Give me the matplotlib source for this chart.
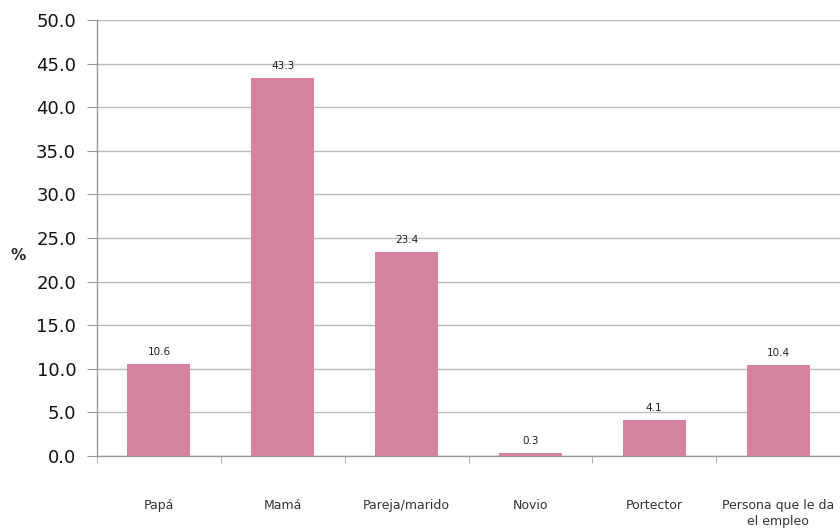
import matplotlib
matplotlib.use("Agg")
import matplotlib.pyplot as plt
import numpy as np

categories = ["Papá", "Mamá", "Pareja/marido", "Novio", "Portector", "Persona que le da\nel empleo"]
values = [10.6, 43.3, 23.4, 0.3, 4.1, 10.4]
yticks = [0, 5, 10, 15, 20, 25, 30, 35, 40, 45, 50]

fig = plt.figure(figsize=(8.4, 5.32), dpi=100)
ax = fig.add_axes([97/840, 76/532, 743/840, 436/532])

x = np.arange(len(categories))
ax.bar(x, values, width=0.51, color="#D4849F", zorder=3)
for xi, v in zip(x, values):
    ax.text(xi, v + 0.8, f"{v:.1f}", ha="center", va="bottom", fontsize=7.5, color="#222222")

ax.set_xlim(-0.5, len(categories) - 0.5)
ax.set_ylim(0, 50)
ax.set_yticks(yticks)
ax.set_yticklabels([f"{t:.1f}" for t in yticks], fontsize=13, color="#111111")
ax.set_xticks(x)
ax.set_xticklabels(categories, fontsize=9, color="#333333", linespacing=1.25)
ax.tick_params(axis="x", length=0, pad=31)
ax.set_xticks(np.arange(-0.5, len(categories)), minor=True)
ax.tick_params(axis="x", which="minor", length=5, color="#999999")
ax.tick_params(axis="y", length=7, color="#999999", pad=8)
ax.grid(axis="y", color="#BBBBBB", linewidth=1.0, zorder=0)
for s in ["top", "right"]:
    ax.spines[s].set_visible(False)
for s in ["left", "bottom"]:
    ax.spines[s].set_color("#999999")
    ax.spines[s].set_linewidth(1.0)
fig.text(18/840, 1 - 256/532, "%", fontsize=11, fontweight="bold", ha="center", va="center", color="#222222")

fig.savefig("out.png", dpi=100)
